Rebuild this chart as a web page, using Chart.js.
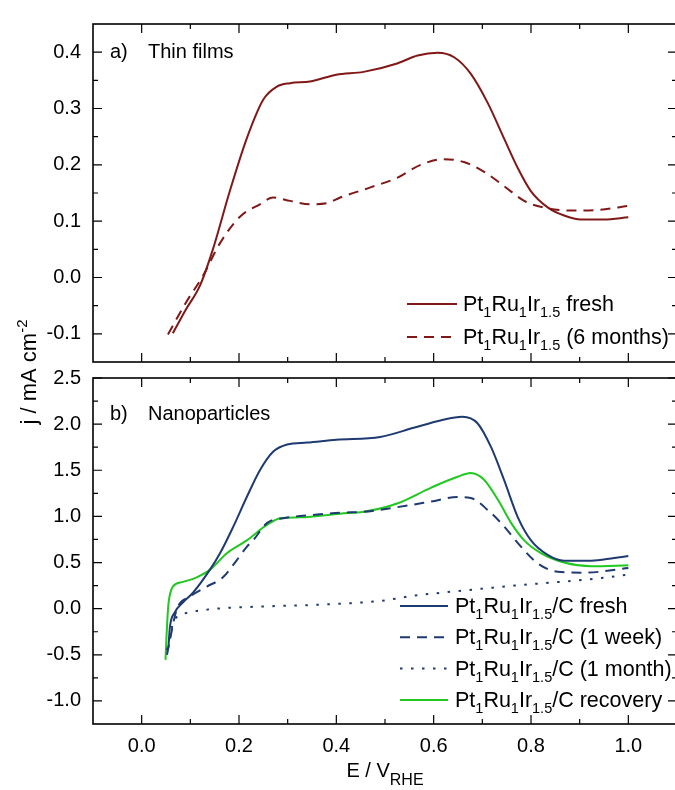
<!DOCTYPE html>
<html>
<head>
<meta charset="utf-8">
<script src="https://cdn.jsdelivr.net/npm/chart.js@4.4.0/dist/chart.umd.min.js"></script>
<style>
  html, body { margin: 0; padding: 0; background: #fff; }
  #wrap { position: relative; width: 675px; height: 790px; overflow: hidden; }
  #wrap canvas { position: absolute; left: 0; top: 0; }
</style>
</head>
<body>
<div id="wrap">
  <canvas id="filmChart" width="682" height="790"></canvas>
  <canvas id="npChart" width="682" height="790"></canvas>
</div>
<script>
// ---- data: E / V_RHE and j / mA cm-2 ----
const tfFreshE = [0.064, 0.09, 0.12, 0.146, 0.181, 0.216, 0.25, 0.278, 0.305, 0.346, 0.40, 0.456, 0.525, 0.567, 0.608, 0.642, 0.676, 0.711, 0.745, 0.773, 0.80, 0.835, 0.868, 0.903, 0.95, 1.0];
const tfFreshJ = [-0.099, -0.058, -0.014, 0.049, 0.153, 0.247, 0.316, 0.339, 0.345, 0.348, 0.36, 0.365, 0.38, 0.394, 0.399, 0.391, 0.362, 0.31, 0.246, 0.194, 0.153, 0.124, 0.11, 0.103, 0.103, 0.107];

const tfAgedE = [0.054, 0.092, 0.126, 0.161, 0.202, 0.243, 0.27, 0.305, 0.346, 0.381, 0.408, 0.47, 0.525, 0.573, 0.621, 0.662, 0.703, 0.745, 0.786, 0.827, 0.882, 0.938, 1.0];
const tfAgedJ = [-0.101, -0.043, 0.003, 0.061, 0.108, 0.13, 0.142, 0.136, 0.13, 0.132, 0.142, 0.16, 0.177, 0.2, 0.21, 0.205, 0.188, 0.162, 0.136, 0.124, 0.119, 0.12, 0.127];

const npFreshE = [0.053, 0.055, 0.058, 0.068, 0.085, 0.105, 0.14, 0.161, 0.188, 0.216, 0.243, 0.27, 0.299, 0.34, 0.40, 0.49, 0.559, 0.614, 0.659, 0.69, 0.718, 0.745, 0.773, 0.80, 0.835, 0.868, 0.924, 0.971, 1.0];
const npFreshJ = [-0.45, -0.41, -0.2, -0.04, 0.07, 0.17, 0.42, 0.60, 0.886, 1.21, 1.5, 1.70, 1.78, 1.80, 1.83, 1.86, 1.96, 2.04, 2.08, 2.01, 1.75, 1.39, 0.99, 0.74, 0.58, 0.52, 0.52, 0.55, 0.57];

const npWeekE = [0.052, 0.058, 0.072, 0.099, 0.134, 0.167, 0.196, 0.216, 0.229, 0.258, 0.291, 0.361, 0.408, 0.456, 0.525, 0.594, 0.649, 0.676, 0.711, 0.745, 0.773, 0.814, 0.855, 0.909, 1.0];
const npWeekJ = [-0.5, -0.34, -0.01, 0.13, 0.24, 0.34, 0.53, 0.67, 0.74, 0.93, 0.98, 1.02, 1.04, 1.05, 1.10, 1.16, 1.21, 1.20, 1.07, 0.89, 0.71, 0.49, 0.40, 0.39, 0.44];

const npMonthE = [0.052, 0.058, 0.065, 0.072, 0.099, 0.154, 0.258, 0.35, 0.43, 0.491, 0.559, 0.629, 0.697, 0.765, 0.835, 0.903, 0.95, 1.0];
const npMonthJ = [-0.45, -0.3, -0.15, -0.09, -0.04, 0.0, 0.025, 0.04, 0.06, 0.084, 0.14, 0.18, 0.215, 0.25, 0.28, 0.31, 0.335, 0.37];

const npRecE = [0.049, 0.051, 0.053, 0.055, 0.058, 0.064, 0.085, 0.113, 0.14, 0.175, 0.216, 0.258, 0.285, 0.326, 0.408, 0.456, 0.525, 0.594, 0.649, 0.676, 0.703, 0.732, 0.759, 0.786, 0.821, 0.868, 0.924, 1.0];
const npRecJ = [-0.555, -0.3, -0.1, 0.05, 0.15, 0.24, 0.29, 0.34, 0.42, 0.60, 0.74, 0.91, 0.98, 0.99, 1.03, 1.05, 1.14, 1.31, 1.43, 1.47, 1.40, 1.18, 0.93, 0.74, 0.60, 0.50, 0.46, 0.47];

const filmLabels = ['Pt_{1}Ru_{1}Ir_{1.5} fresh', 'Pt_{1}Ru_{1}Ir_{1.5} (6 months)'];
const npLabels = ['Pt_{1}Ru_{1}Ir_{1.5}/C fresh', 'Pt_{1}Ru_{1}Ir_{1.5}/C (1 week)', 'Pt_{1}Ru_{1}Ir_{1.5}/C (1 month)', 'Pt_{1}Ru_{1}Ir_{1.5}/C recovery'];

const xMajor = [0, 0.2, 0.4, 0.6, 0.8, 1.0];
const xMinor = [0.1, 0.3, 0.5, 0.7, 0.9];
const filmYMajor = [-0.1, 0, 0.1, 0.2, 0.3, 0.4];
const filmYMinor = [-0.05, 0.05, 0.15, 0.25, 0.35];
const npYMajor = [-1.0, -0.5, 0, 0.5, 1.0, 1.5, 2.0, 2.5];
const npYMinor = [-0.75, -0.25, 0.25, 0.75, 1.25, 1.75, 2.25];

const FONT = '"Liberation Sans", Arial, sans-serif';
const WINE = '#801818';
const NAVY = '#1e3a70';
const GREEN = '#20c820';

function pts(E, J) { return E.map((e, i) => ({ x: e, y: J[i] })); }

// text with _{sub} and ^{sup}
function drawRich(ctx, str, x, y, o) {
  const parts = [];
  const re = /([_^])\{([^}]*)\}/g;
  let last = 0, m;
  while ((m = re.exec(str))) {
    if (m.index > last) parts.push({ t: str.slice(last, m.index), k: '' });
    parts.push({ t: m[2], k: m[1] });
    last = re.lastIndex;
  }
  if (last < str.length) parts.push({ t: str.slice(last), k: '' });
  let w = 0;
  parts.forEach(p => {
    ctx.font = (p.k ? o.sub : o.size) + 'px ' + FONT;
    p.w = ctx.measureText(p.t).width;
    w += p.w;
  });
  let cx = o.align === 'center' ? x - w / 2 : x;
  ctx.textAlign = 'left';
  ctx.textBaseline = 'alphabetic';
  ctx.fillStyle = '#000';
  parts.forEach(p => {
    ctx.font = (p.k ? o.sub : o.size) + 'px ' + FONT;
    const dy = p.k === '_' ? o.shift : p.k === '^' ? -o.size * 0.42 : 0;
    ctx.fillText(p.t, cx, y + dy);
    cx += p.w;
  });
}

// frame + inward major/minor ticks on all four sides
const framePlugin = {
  id: 'frame',
  afterDatasetsDraw(chart, args, o) {
    const { ctx, chartArea: a } = chart;
    const sx = chart.scales.x, sy = chart.scales.y;
    ctx.save();
    ctx.strokeStyle = '#000';
    ctx.lineWidth = 1.2;
    ctx.beginPath();
    const tx = (v, len) => {
      const p = sx.getPixelForValue(v);
      ctx.moveTo(p, a.bottom); ctx.lineTo(p, a.bottom - len);
      ctx.moveTo(p, a.top); ctx.lineTo(p, a.top + len);
    };
    const ty = (v, len) => {
      const p = sy.getPixelForValue(v);
      ctx.moveTo(a.left, p); ctx.lineTo(a.left + len, p);
      ctx.moveTo(a.right, p); ctx.lineTo(a.right - len, p);
    };
    xMajor.forEach(v => tx(v, 9));
    xMinor.forEach(v => tx(v, 5));
    o.yMajor.forEach(v => ty(v, 9));
    o.yMinor.forEach(v => ty(v, 5));
    ctx.stroke();
    ctx.lineWidth = 1.6;
    ctx.strokeRect(a.left, a.top, a.right - a.left, a.bottom - a.top);
    ctx.restore();
  }
};

const legendPlugin = {
  id: 'richLegend',
  afterDatasetsDraw(chart, args, o) {
    const ctx = chart.ctx;
    chart.data.datasets.forEach((ds, i) => {
      const y = o.top + i * o.step;
      ctx.save();
      ctx.strokeStyle = ds.borderColor;
      ctx.lineWidth = ds.borderWidth;
      ctx.setLineDash(ds.borderDash || []);
      ctx.beginPath();
      ctx.moveTo(o.x, y);
      ctx.lineTo(o.x + o.len, y);
      ctx.stroke();
      ctx.restore();
      drawRich(ctx, ds.label, o.x + o.len + o.gap, y + 7, { size: 21.5, sub: 14.5, shift: 6 });
    });
  }
};

const notesPlugin = {
  id: 'notes',
  afterDraw(chart, args, o) {
    const ctx = chart.ctx;
    o.items.forEach(n => {
      ctx.save();
      ctx.translate(n.x, n.y);
      if (n.rot) ctx.rotate(n.rot);
      drawRich(ctx, n.s, 0, 0, n.o);
      ctx.restore();
    });
  }
};

function makeChart(id, datasets, yMin, yMax, yMajor, yMinor, showX, xHeight, padTop, legend, notes) {
  return new Chart(document.getElementById(id), {
    type: 'line',
    data: { datasets: datasets },
    plugins: [framePlugin, legendPlugin, notesPlugin],
    options: {
      responsive: false,
      animation: false,
      events: [],
      layout: { padding: { top: padTop, right: 5, left: 0, bottom: 0 } },
      elements: { point: { radius: 0 }, line: { cubicInterpolationMode: 'monotone', fill: false } },
      scales: {
        x: {
          type: 'linear', min: -0.1, max: 1.1,
          grid: { display: false, drawTicks: false },
          border: { display: false },
          afterBuildTicks: s => { s.ticks = xMajor.map(v => ({ value: v })); },
          afterFit: s => { s.height = xHeight; },
          ticks: {
            display: showX, padding: 10, color: '#000', maxRotation: 0,
            font: { family: FONT, size: 20 },
            callback: v => v.toFixed(1)
          }
        },
        y: {
          min: yMin, max: yMax,
          grid: { display: false, drawTicks: false },
          border: { display: false },
          afterBuildTicks: s => { s.ticks = yMajor.map(v => ({ value: v })); },
          afterFit: s => { s.width = 93; },
          ticks: {
            padding: 12, color: '#000',
            font: { family: FONT, size: 20 },
            callback: v => v.toFixed(1)
          }
        }
      },
      plugins: {
        legend: { display: false },
        tooltip: { enabled: false },
        frame: { yMajor: yMajor, yMinor: yMinor },
        richLegend: legend,
        notes: { items: notes }
      }
    }
  });
}

const big = { size: 20, sub: 14, shift: 6, align: 'left' };

makeChart('filmChart', [
  { label: filmLabels[0], data: pts(tfFreshE, tfFreshJ), borderColor: WINE, borderWidth: 2 },
  { label: filmLabels[1], data: pts(tfAgedE, tfAgedJ), borderColor: WINE, borderWidth: 2, borderDash: [10, 7] }
], -0.15, 0.45, filmYMajor, filmYMinor, false, 428, 15,
  { x: 407, len: 50, gap: 6, top: 304, step: 33 },
  [
    { s: 'a)', x: 110, y: 58, o: big },
    { s: 'Thin films', x: 148, y: 58, o: big },
    { s: 'j / mA cm^{-2}', x: 36, y: 372, rot: -Math.PI / 2, o: { size: 22, sub: 15, shift: 6, align: 'center' } }
  ]);

makeChart('npChart', [
  { label: npLabels[0], data: pts(npFreshE, npFreshJ), borderColor: NAVY, borderWidth: 2 },
  { label: npLabels[1], data: pts(npWeekE, npWeekJ), borderColor: NAVY, borderWidth: 2, borderDash: [10, 7] },
  { label: npLabels[2], data: pts(npMonthE, npMonthJ), borderColor: NAVY, borderWidth: 2, borderDash: [2.5, 8.5] },
  { label: npLabels[3], data: pts(npRecE, npRecJ), borderColor: GREEN, borderWidth: 2 }
], -1.25, 2.5, npYMajor, npYMinor, true, 66, 378,
  { x: 400, len: 48, gap: 7, top: 606, step: 31.3 },
  [
    { s: 'b)', x: 110, y: 420, o: big },
    { s: 'Nanoparticles', x: 148, y: 420, o: big },
    { s: 'E / V_{RHE}', x: 385, y: 777, o: { size: 20, sub: 16, shift: 8, align: 'center' } }
  ]);
</script>
</body>
</html>
